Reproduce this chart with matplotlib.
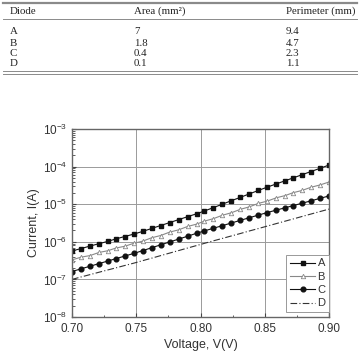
import numpy as np
import matplotlib
matplotlib.use("Agg")
from matplotlib import pyplot as plt
from matplotlib.lines import Line2D
from matplotlib.ticker import LogLocator, MultipleLocator, LogFormatterSciNotation, NullFormatter

plt.rcParams['font.family'] = ['Liberation Sans', 'DejaVu Sans']
plt.rcParams['mathtext.fontset'] = 'custom'
plt.rcParams['mathtext.rm'] = 'Liberation Sans'
plt.rcParams['mathtext.it'] = 'Liberation Sans:italic'

# table data
diodes = ["A", "B", "C", "D"]
areas = ["7", "1.8", "0.4", "0.1"]
perimeters = ["9.4", "4.7", "2.3", "1.1"]

# I-V data
voltage = [0.700, 0.707, 0.714, 0.721, 0.728, 0.734, 0.741, 0.748, 0.755, 0.762,
           0.769, 0.776, 0.783, 0.790, 0.797, 0.803, 0.810, 0.817, 0.824, 0.831,
           0.838, 0.845, 0.852, 0.859, 0.866, 0.872, 0.879, 0.886, 0.893, 0.900]
cur_a = [5.7e-7, 6.6e-7, 7.7e-7, 8.9e-7, 1.03e-6, 1.19e-6, 1.38e-6, 1.60e-6, 1.89e-6, 2.26e-6,
         2.71e-6, 3.24e-6, 3.89e-6, 4.66e-6, 5.57e-6, 6.59e-6, 8.1e-6, 1.0e-5, 1.24e-5, 1.52e-5,
         1.88e-5, 2.32e-5, 2.85e-5, 3.47e-5, 4.22e-5, 4.99e-5, 6.08e-5, 7.40e-5, 9.0e-5, 1.10e-4]
cur_b = [3.3e-7, 3.9e-7, 4.3e-7, 5.2e-7, 5.8e-7, 6.8e-7, 7.6e-7, 9.1e-7, 1.04e-6, 1.28e-6,
         1.47e-6, 1.81e-6, 2.08e-6, 2.56e-6, 2.95e-6, 3.55e-6, 4.12e-6, 5.08e-6, 5.92e-6, 7.3e-6,
         8.5e-6, 1.05e-5, 1.21e-5, 1.48e-5, 1.70e-5, 2.02e-5, 2.32e-5, 2.82e-5, 3.25e-5, 3.89e-5]
cur_c = [1.62e-7, 1.91e-7, 2.24e-7, 2.63e-7, 3.09e-7, 3.55e-7, 4.17e-7, 4.90e-7, 5.82e-7, 6.95e-7,
         8.30e-7, 9.91e-7, 1.18e-6, 1.41e-6, 1.69e-6, 1.95e-6, 2.29e-6, 2.69e-6, 3.16e-6, 3.72e-6,
         4.37e-6, 5.13e-6, 6.0e-6, 6.97e-6, 8.07e-6, 9.16e-6, 1.06e-5, 1.23e-5, 1.43e-5, 1.66e-5]
cur_d = [1.0e-7, 1.16e-7, 1.34e-7, 1.55e-7, 1.79e-7, 2.02e-7, 2.34e-7, 2.70e-7, 3.15e-7, 3.67e-7,
         4.29e-7, 5.01e-7, 5.85e-7, 6.83e-7, 7.96e-7, 9.08e-7, 1.06e-6, 1.23e-6, 1.43e-6, 1.66e-6,
         1.94e-6, 2.25e-6, 2.62e-6, 3.05e-6, 3.55e-6, 4.04e-6, 4.71e-6, 5.48e-6, 6.37e-6, 7.41e-6]

fig = plt.figure(figsize=(3.59, 3.62), dpi=100)

# --- table on top ---
rule = '#8a8a8a'
txt = '#222222'
tfont = dict(family='Liberation Serif', size=7.8, color=txt, va='center')
fig.add_artist(Line2D([0.008, 0.995], [1 - 3 / 362, 1 - 3 / 362], color=rule, lw=1.6))
fig.add_artist(Line2D([0.008, 0.995], [1 - 18.5 / 362, 1 - 18.5 / 362], color=rule, lw=0.7))
fig.add_artist(Line2D([0.008, 0.995], [1 - 71 / 362, 1 - 71 / 362], color=rule, lw=0.7))
fig.add_artist(Line2D([0.008, 0.995], [1 - 73.5 / 362, 1 - 73.5 / 362], color=rule, lw=0.7))
col_x = [10 / 359, 134 / 359, 286 / 359]
fig.text(col_x[0], 1 - 11 / 362, "Diode", **tfont)
fig.text(col_x[1], 1 - 11 / 362, "Area (mm²)", **tfont)
fig.text(col_x[2], 1 - 11 / 362, "Perimeter (mm)", **tfont)
row_y = [32, 43, 53, 63]
for i in range(len(diodes)):
    y = 1 - row_y[i] / 362
    fig.text(col_x[0], y, diodes[i], **tfont)
    fig.text(col_x[1], y, areas[i], **tfont)
    fig.text(col_x[2], y, perimeters[i], **tfont)

# --- I-V chart ---
ax = fig.add_axes([72 / 359, 1 - 317 / 362, 257 / 359, 188 / 362])
ax.set_yscale('log')

ax.plot(voltage, cur_a, color='#111111', lw=0.8, marker='s', ms=3, mfc='#111111', mec='#111111', label='A')
ax.plot(voltage, cur_b, color='#888888', lw=0.8, marker='^', ms=3.2, mfc='white', mec='#888888', mew=0.6, label='B')
ax.plot(voltage, cur_c, color='#111111', lw=0.8, marker='o', ms=3.4, mfc='#111111', mec='#111111', label='C')
ax.plot(voltage, cur_d, color='#333333', lw=0.8, ls=(0, (6, 2, 1, 2)), label='D')

ax.set_xlim(0.70, 0.90)
ax.set_ylim(1e-8, 1e-3)
ax.xaxis.set_major_locator(MultipleLocator(0.05))
ax.xaxis.set_minor_locator(MultipleLocator(0.025))
ax.xaxis.set_major_formatter(plt.FormatStrFormatter('%.2f'))
ax.yaxis.set_major_locator(LogLocator(base=10, numticks=10))
ax.yaxis.set_minor_locator(LogLocator(base=10, subs=np.arange(2, 10), numticks=10))
ax.yaxis.set_major_formatter(LogFormatterSciNotation())
ax.yaxis.set_minor_formatter(NullFormatter())

ax.tick_params(which='both', direction='in', colors='#444444', labelsize=8.5, labelcolor='#333333')
ax.tick_params(which='major', length=3, width=0.8)
ax.tick_params(which='minor', length=1.8, width=0.6)
ax.tick_params(axis='x', pad=4)
ax.grid(True, which='major', color='#9a9a9a', lw=0.7)
for s in ax.spines.values():
    s.set_color('#666666')
    s.set_linewidth(1.0)

ax.set_xlabel('Voltage, V(V)', fontsize=9, color='#333333', labelpad=3)
ax.set_ylabel('Current, I(A)', fontsize=9, color='#333333', labelpad=2)

leg = ax.legend(loc='lower right', bbox_to_anchor=(1.0, 0.028), fontsize=8,
                handlelength=2.3, handletextpad=0.2,
                labelspacing=0.3, borderpad=0.3, borderaxespad=0.0,
                fancybox=False, framealpha=1, edgecolor='#999999')
leg.get_frame().set_linewidth(0.7)
for t in leg.get_texts():
    t.set_color('#333333')

fig.savefig('out.png', dpi=100)
